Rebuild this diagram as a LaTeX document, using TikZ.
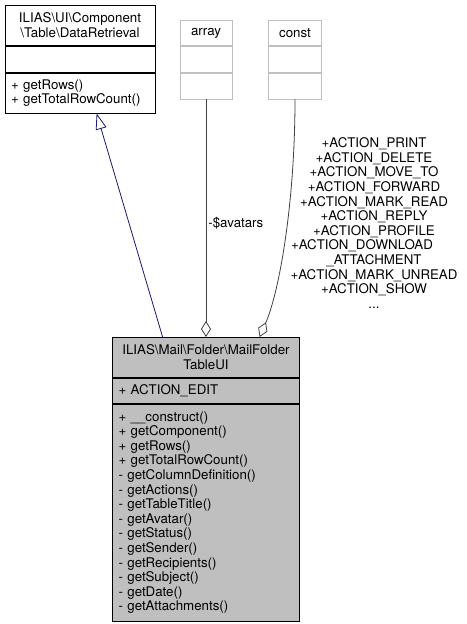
\documentclass[tikz,border=0pt]{standalone}
\usepackage{fontspec}
\setmainfont{TeX Gyre Heros}
\usetikzlibrary{positioning,arrows.meta}
\definecolor{colorinh}{HTML}{191970}
\definecolor{coloruse}{HTML}{404040}
\definecolor{colorfaint}{HTML}{BFBFBF}
\definecolor{colorcur}{HTML}{BFBFBF}
\newcommand\dxfont{\fontsize{13.3}{14.6}\selectfont}
\newcommand\bs{\textbackslash}
\tikzset{
  cls/.style={draw, anchor=north, inner xsep=4pt, inner ysep=0pt, font=\dxfont},
  clsfaint/.style={cls, draw=colorfaint},
  clscur/.style={cls, fill=colorcur},
  edgeinh/.style={colorinh, -{Triangle[open, length=16pt, width=11pt]}},
  edgeuse/.style={coloruse, -{Diamond[open, length=16pt, width=10pt]}},
  edgelbl/.style={text=black, font=\dxfont, inner sep=2pt}
}

\begin{document}
\begin{tikzpicture}[x=1pt, y=-1pt, line width=0.8pt]
\useasboundingbox (0,0) rectangle (466,624);
% base class
\node[cls, minimum width=150, minimum height=40, text width=142, align=center] (drname) at (80,5)
  {ILIAS\bs UI\bs Component\\\bs Table\bs DataRetrieval};
\node[cls, below=0pt of drname, minimum width=150, minimum height=26] (drattr) {};
\node[cls, below=0pt of drattr, minimum width=150, minimum height=40, text width=138, inner xsep=6pt, align=left] (drops)
  {+ getRows()\\+ getTotalRowCount()};
% used types
\node[clsfaint, minimum width=52, minimum height=25] (arrname) at (206,20) {array};
\node[clsfaint, below=0pt of arrname, minimum width=52, minimum height=26] (arrattr) {};
\node[clsfaint, below=0pt of arrattr, minimum width=52, minimum height=26] (arrops) {};
\node[clsfaint, minimum width=53, minimum height=25] (cstname) at (295,20) {const};
\node[clsfaint, below=0pt of cstname, minimum width=53, minimum height=26] (cstattr) {};
\node[clsfaint, below=0pt of cstattr, minimum width=53, minimum height=26] (cstops) {};
% this class
\node[clscur, minimum width=187, minimum height=40, text width=179, align=center] (mainname) at (206,337)
  {ILIAS\bs Mail\bs Folder\bs MailFolder\\TableUI};
\node[clscur, below=0pt of mainname, minimum width=187, minimum height=25, text width=175, inner xsep=6pt, align=left] (mainattr)
  {+ ACTION\_EDIT};
\node[clscur, below=0pt of mainattr, minimum width=187, minimum height=217, text width=175, inner xsep=6pt, align=left] (mainops)
  {+ \_\_construct()\\
   + getComponent()\\
   + getRows()\\
   + getTotalRowCount()\\
   - getColumnDefinition()\\
   - getActions()\\
   - getTableTitle()\\
   - getAvatar()\\
   - getStatus()\\
   - getSender()\\
   - getRecipients()\\
   - getSubject()\\
   - getDate()\\
   - getAttachments()};
% relations
\draw[edgeinh] ([xshift=50.5pt]mainname.north west) -- ([xshift=92pt]drops.south west);
\draw[edgeuse] (arrops.south) -- node[edgelbl, right, pos=0.52] (lblavatars) {-\$avatars} (arrops.south |- mainname.north);
\draw[edgeuse] (cstops.south) .. controls (295,200) and (280,290) .. ([xshift=147.5pt]mainname.north west);
\node[edgelbl, align=center] (lblconst) at (374,223)
  {+ACTION\_PRINT\\+ACTION\_DELETE\\+ACTION\_MOVE\_TO\\+ACTION\_FORWARD\\+ACTION\_MARK\_READ\\
   +ACTION\_REPLY\\+ACTION\_PROFILE\\+ACTION\_DOWNLOAD\makebox[24pt]{}\\\_ATTACHMENT\\
   +ACTION\_MARK\_UNREAD\\+ACTION\_SHOW\\...};
\end{tikzpicture}
\end{document}
